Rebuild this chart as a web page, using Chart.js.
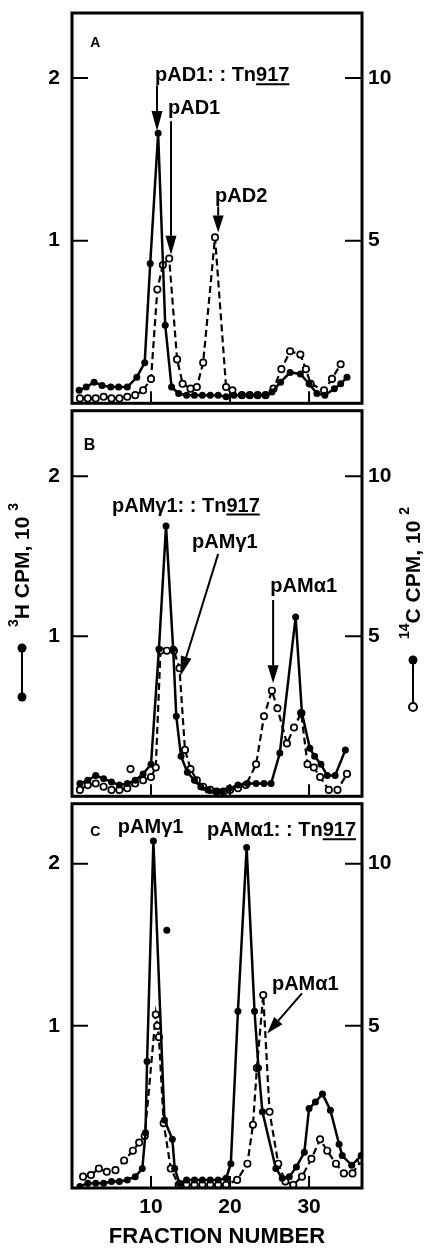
<!DOCTYPE html>
<html>
<head>
<meta charset="utf-8">
<script src="https://cdn.jsdelivr.net/npm/chart.js@4.4.1/dist/chart.umd.min.js"></script>
<style>
html, body { margin: 0; padding: 0; background: #fff; }
#page { position: relative; width: 426px; height: 1248px; overflow: hidden;
        font-family: 'Liberation Sans', Arial, sans-serif; font-weight: bold; color: #000; }
canvas { position: absolute; left: 0; }
.side { position: absolute; white-space: nowrap; font-size: 21px; transform: translate(-50%, -50%) rotate(-90deg); }
.side sup { font-size: 14px; vertical-align: top; position: relative; top: -5px; }
.dot { position: absolute; width: 9px; height: 9px; border-radius: 50%; background: #000; transform: translate(-50%, -50%); }
.dot.open { background: #fff; border: 2px solid #000; width: 6px; height: 6px; }
.stem { position: absolute; width: 2px; background: #000; transform: translateX(-50%); }
</style>
</head>
<body>
<div id="page">
  <canvas id="panelA" width="426" height="409" style="top:0px"></canvas>
  <canvas id="panelB" width="426" height="397" style="top:405px"></canvas>
  <canvas id="panelC" width="426" height="450" style="top:798px"></canvas>

  <div class="side" style="left:22px; top:565px"><sup>3</sup>H CPM, 10 <sup>3</sup></div>
  <div class="dot" style="left:22px; top:648px"></div>
  <div class="stem" style="left:22px; top:648px; height:49px"></div>
  <div class="dot" style="left:22px; top:697px"></div>

  <div class="side" style="left:413px; top:573px"><sup>14</sup>C CPM, 10 <sup>2</sup></div>
  <div class="dot" style="left:413px; top:660px"></div>
  <div class="stem" style="left:413px; top:660px; height:47px"></div>
  <div class="dot open" style="left:413px; top:707px"></div>
</div>

<script>
// ---- data: fraction number vs CPM (3H in 10^3, 14C in 10^2) ----
const aFrac3H  = [0.9, 1.8, 2.8, 3.8, 4.9, 5.9, 7.0, 8.2, 9.2, 9.9, 10.9, 11.8, 12.6, 13.5, 14.5, 15.5, 16.5, 17.5, 18.5, 19.5, 20.5, 21.5, 22.5, 23.5, 24.5, 25.3, 26.4, 27.6, 28.9, 30.0, 31.0, 32.0, 33.2, 34.0, 34.8];
const aCpm3H   = [0.08, 0.10, 0.13, 0.11, 0.10, 0.10, 0.10, 0.16, 0.25, 0.86, 1.66, 0.48, 0.10, 0.06, 0.05, 0.05, 0.05, 0.05, 0.05, 0.04, 0.05, 0.05, 0.05, 0.05, 0.05, 0.07, 0.13, 0.19, 0.18, 0.12, 0.06, 0.05, 0.09, 0.12, 0.16];
const aFrac14C = [1, 2, 3, 4, 5, 6, 7, 8, 9, 10.0, 10.8, 11.5, 12.3, 13.3, 14.0, 15.0, 15.8, 16.6, 18.1, 19.5, 20.3, 21.5, 22.5, 23.5, 24.5, 25.5, 26.5, 27.6, 28.9, 29.6, 30.2, 31.9, 32.9, 34.0];
const aCpm14C  = [0.15, 0.15, 0.15, 0.2, 0.15, 0.15, 0.2, 0.25, 0.4, 0.75, 3.5, 4.25, 4.45, 1.35, 0.6, 0.45, 0.5, 1.25, 5.1, 0.5, 0.4, 0.25, 0.25, 0.25, 0.25, 0.45, 1.05, 1.6, 1.5, 1.05, 0.6, 0.4, 0.75, 1.2];

const bFrac3H  = [1, 2, 3, 4, 5, 6, 7, 8, 9, 10, 11, 11.9, 12.8, 13.2, 13.8, 14.6, 15.5, 16.3, 17.2, 18.2, 19.0, 19.9, 21.0, 22.2, 23.3, 24.3, 25.2, 26.3, 28.3, 29.1, 30.1, 30.7, 31.5, 32.3, 33.3, 34.6];
const bCpm3H   = [0.08, 0.10, 0.13, 0.11, 0.09, 0.07, 0.08, 0.10, 0.14, 0.20, 0.92, 1.69, 0.92, 0.50, 0.25, 0.15, 0.10, 0.06, 0.04, 0.03, 0.03, 0.05, 0.07, 0.08, 0.08, 0.08, 0.08, 0.27, 1.12, 0.52, 0.30, 0.25, 0.20, 0.13, 0.13, 0.29];
const bFrac14C = [1, 2, 3, 4, 5, 6, 7, 8, 9, 10, 10.6, 11.2, 12.0, 12.9, 13.6, 14.3, 15.0, 15.8, 16.6, 17.5, 18.3, 19.2, 20.0, 21.0, 22.0, 23.3, 24.3, 25.3, 26.0, 27.2, 28.1, 29.0, 29.8, 30.6, 31.4, 32.5, 33.6, 34.8];
const bCpm14C  = [0.2, 0.35, 0.4, 0.3, 0.2, 0.2, 0.25, 0.4, 0.5, 0.6, 0.9, 4.55, 4.55, 4.55, 4.0, 1.45, 0.85, 0.5, 0.3, 0.2, 0.15, 0.15, 0.2, 0.25, 0.35, 1.0, 2.5, 3.3, 2.75, 1.65, 2.15, 2.6, 1.0, 0.9, 0.6, 0.2, 0.2, 0.7];
const bStrayFrac14C = [7.4];
const bStrayCpm14C  = [0.85];

const cFrac3H  = [1, 2, 3, 4, 5, 6, 7, 8, 8.9, 9.3, 9.5, 10.3, 11.7, 12.7, 13.0, 13.6, 14.5, 15.5, 16.5, 17.5, 18.5, 19.5, 20.1, 21.0, 22.1, 23.1, 23.6, 24.1, 25.8, 26.6, 27.5, 28.4, 29.4, 30.0, 30.8, 31.7, 32.7, 33.8, 34.2, 35.4, 36.6];
const cCpm3H   = [0.01, 0.03, 0.03, 0.03, 0.04, 0.04, 0.05, 0.07, 0.12, 0.34, 0.78, 2.14, 0.42, 0.30, 0.12, 0.03, 0.05, 0.05, 0.05, 0.05, 0.05, 0.06, 0.15, 1.09, 2.10, 1.09, 0.74, 0.47, 0.12, 0.06, 0.07, 0.13, 0.22, 0.49, 0.53, 0.58, 0.48, 0.27, 0.20, 0.14, 0.20];
const cStrayFrac3H = [12.0];
const cStrayCpm3H  = [1.59];
const cFrac14C = [1.4, 2.4, 3.4, 4.4, 5.5, 6.6, 7.7, 8.5, 9.2, 10.6, 10.8, 11.0, 11.6, 12.5, 13.5, 14.5, 15.5, 16.5, 17.5, 18.5, 19.5, 20.9, 22.2, 22.9, 23.4, 24.2, 25.0, 26.1, 27.0, 28.0, 29.1, 30.3, 31.4, 32.3, 33.4, 34.4, 35.5, 36.6];
const cCpm14C  = [0.35, 0.4, 0.6, 0.5, 0.55, 0.85, 1.15, 1.4, 1.6, 5.35, 5.0, 4.65, 2.0, 0.6, 0.1, 0.1, 0.1, 0.1, 0.1, 0.1, 0.1, 0.25, 0.75, 1.95, 3.7, 5.95, 2.35, 0.75, 0.2, 0.1, 0.35, 0.9, 1.5, 1.15, 0.75, 0.45, 0.45, 0.85];

const leftTicks = [1, 2];
const rightTicks = [5, 10];
const fracTicks = [10, 20, 30];
const fracLabels = ['10', '20', '30'];

const FONT = "'Liberation Sans', Arial, sans-serif";
const FRAC_MAX = 36.7;

function pts(fr, cpm) {
    return fr.map((f, i) => ({ x: f, y: cpm[i] }));
}

function solid3H(fr, cpm, line) {
    return {
        data: pts(fr, cpm), yAxisID: 'y', showLine: line,
        borderColor: '#000', borderWidth: 2.5,
        pointRadius: 3.5, pointBackgroundColor: '#000', pointBorderWidth: 0
    };
}

function dashed14C(fr, cpm, line) {
    return {
        data: pts(fr, cpm), yAxisID: 'y2', showLine: line,
        borderColor: '#000', borderWidth: 2.2, borderDash: [7, 4],
        pointRadius: 3.2, pointBackgroundColor: '#fff', pointBorderColor: '#000', pointBorderWidth: 1.7
    };
}

// frame, inner tick marks and the labelled arrows
const framePlugin = {
    id: 'frame',
    afterDraw(chart, args, opts) {
        const { ctx, chartArea: a, scales } = chart;
        ctx.save();
        ctx.strokeStyle = '#000';
        ctx.fillStyle = '#000';
        ctx.lineWidth = 2;
        ctx.beginPath();
        leftTicks.forEach(v => {
            const y = scales.y.getPixelForValue(v);
            ctx.moveTo(a.left, y); ctx.lineTo(a.left + 16, y);
        });
        rightTicks.forEach(v => {
            const y = scales.y2.getPixelForValue(v);
            ctx.moveTo(a.right, y); ctx.lineTo(a.right - 17, y);
        });
        fracTicks.forEach(v => {
            const x = scales.x.getPixelForValue(v);
            ctx.moveTo(x, a.bottom); ctx.lineTo(x, a.bottom - 12);
        });
        ctx.stroke();
        ctx.lineWidth = 3;
        ctx.strokeRect(a.left, a.top, a.right - a.left, a.bottom - a.top);

        (opts.notes || []).forEach(n => {
            if (n.text) {
                const px = scales.x.getPixelForValue(n.x);
                const py = scales.y.getPixelForValue(n.y);
                ctx.font = 'bold ' + (n.size || 20) + 'px ' + FONT;
                ctx.textAlign = 'left';
                ctx.textBaseline = 'alphabetic';
                ctx.fillText(n.text, px, py);
                if (n.underline) {
                    const w0 = ctx.measureText(n.text.slice(0, n.text.length - n.underline.length)).width;
                    const w1 = ctx.measureText(n.underline).width;
                    ctx.lineWidth = 2;
                    ctx.beginPath();
                    ctx.moveTo(px + w0, py + 3); ctx.lineTo(px + w0 + w1, py + 3);
                    ctx.stroke();
                }
            } else {
                const x1 = scales.x.getPixelForValue(n.x1), y1 = scales.y.getPixelForValue(n.y1);
                const x2 = scales.x.getPixelForValue(n.x2), y2 = scales.y.getPixelForValue(n.y2);
                const len = Math.hypot(x2 - x1, y2 - y1);
                const ux = (x2 - x1) / len, uy = (y2 - y1) / len;
                const L = n.head || 18, W = 5.5;
                const bx = x2 - ux * L, by = y2 - uy * L;
                ctx.lineWidth = 2;
                ctx.beginPath();
                ctx.moveTo(x1, y1); ctx.lineTo(bx, by);
                ctx.stroke();
                ctx.beginPath();
                ctx.moveTo(x2, y2);
                ctx.lineTo(bx - uy * W, by + ux * W);
                ctx.lineTo(bx + uy * W, by - ux * W);
                ctx.closePath();
                ctx.fill();
            }
        });
        ctx.restore();
    }
};

function panel(id, padTop, xHeight, yMax, showFrac, datasets, notes) {
    const tickFont = { family: FONT, size: 21, weight: 'bold' };
    return new Chart(document.getElementById(id), {
        type: 'scatter',
        data: { datasets: datasets },
        options: {
            responsive: false,
            animation: false,
            devicePixelRatio: 1,
            layout: { padding: { top: padTop, left: 0, right: 0, bottom: 0 } },
            plugins: { legend: { display: false }, tooltip: { enabled: false }, frame: { notes: notes } },
            scales: {
                x: {
                    type: 'linear', min: 0, max: FRAC_MAX,
                    grid: { display: false, drawTicks: false }, border: { display: false },
                    afterBuildTicks: s => { s.ticks = fracTicks.map(v => ({ value: v })); },
                    ticks: {
                        display: showFrac, autoSkip: false, maxRotation: 0, padding: 7,
                        color: '#000', font: tickFont,
                        callback: v => { const i = fracTicks.indexOf(v); return i >= 0 ? fracLabels[i] : ''; }
                    },
                    title: {
                        display: showFrac, text: 'FRACTION NUMBER', color: '#000', padding: 0,
                        font: { family: FONT, size: 22, weight: 'bold', lineHeight: 1 }
                    },
                    afterFit: s => { s.height = xHeight; s.paddingLeft = 0; s.paddingRight = 0; }
                },
                y: {
                    position: 'left', min: 0, max: yMax,
                    grid: { display: false, drawTicks: false }, border: { display: false },
                    afterBuildTicks: s => { s.ticks = leftTicks.map(v => ({ value: v })); },
                    ticks: { padding: 12, color: '#000', font: tickFont, callback: v => String(v) },
                    afterFit: s => { s.width = 72; s.paddingTop = 0; s.paddingBottom = 0; }
                },
                y2: {
                    position: 'right', min: 0, max: yMax * 5,
                    grid: { display: false, drawTicks: false }, border: { display: false },
                    afterBuildTicks: s => { s.ticks = rightTicks.map(v => ({ value: v })); },
                    ticks: { padding: 6, color: '#000', font: tickFont, callback: v => String(v) },
                    afterFit: s => { s.width = 64; s.paddingTop = 0; s.paddingBottom = 0; }
                }
            }
        },
        plugins: [framePlugin]
    });
}

panel('panelA', 13, 2, 2.4, false, [
    solid3H(aFrac3H, aCpm3H, true),
    dashed14C(aFrac14C, aCpm14C, true)
], [
    { text: 'A', x: 2.3, y: 2.19, size: 14 },
    { text: 'pAD1: : Tn917', underline: '917', x: 10.5, y: 1.98 },
    { x1: 10.76, y1: 1.955, x2: 10.76, y2: 1.675, head: 20 },
    { text: 'pAD1', x: 12.15, y: 1.78 },
    { x1: 12.53, y1: 1.735, x2: 12.53, y2: 0.913, head: 19 },
    { text: 'pAD2', x: 18.1, y: 1.24 },
    { x1: 18.5, y1: 1.21, x2: 18.5, y2: 1.05, head: 17 }
]);

panel('panelB', 2, 2, 2.41, false, [
    solid3H(bFrac3H, bCpm3H, true),
    dashed14C(bFrac14C, bCpm14C, true),
    dashed14C(bStrayFrac14C, bStrayCpm14C, false)
], [
    { text: 'B', x: 1.5, y: 2.165, size: 16 },
    { text: 'pAMγ1: : Tn917', underline: '917', x: 5.06, y: 1.78 },
    { text: 'pAMγ1', x: 15.2, y: 1.55 },
    { x1: 18.5, y1: 1.515, x2: 13.7, y2: 0.75, head: 20 },
    { text: 'pAMα1', x: 25.1, y: 1.276 },
    { x1: 25.45, y1: 1.227, x2: 25.45, y2: 0.706, head: 18 }
]);

panel('panelC', 2, 60, 2.37, true, [
    solid3H(cFrac3H, cCpm3H, true),
    solid3H(cStrayFrac3H, cStrayCpm3H, false),
    dashed14C(cFrac14C, cCpm14C, true)
], [
    { text: 'C', x: 2.3, y: 2.17, size: 14 },
    { text: 'pAMγ1', x: 5.8, y: 2.19 },
    { text: 'pAMα1: : Tn917', underline: '917', x: 17.1, y: 2.17 },
    { text: 'pAMα1', x: 25.3, y: 1.22 },
    { x1: 29.1, y1: 1.2, x2: 24.7, y2: 0.953, head: 17 }
]);
</script>
</body>
</html>
